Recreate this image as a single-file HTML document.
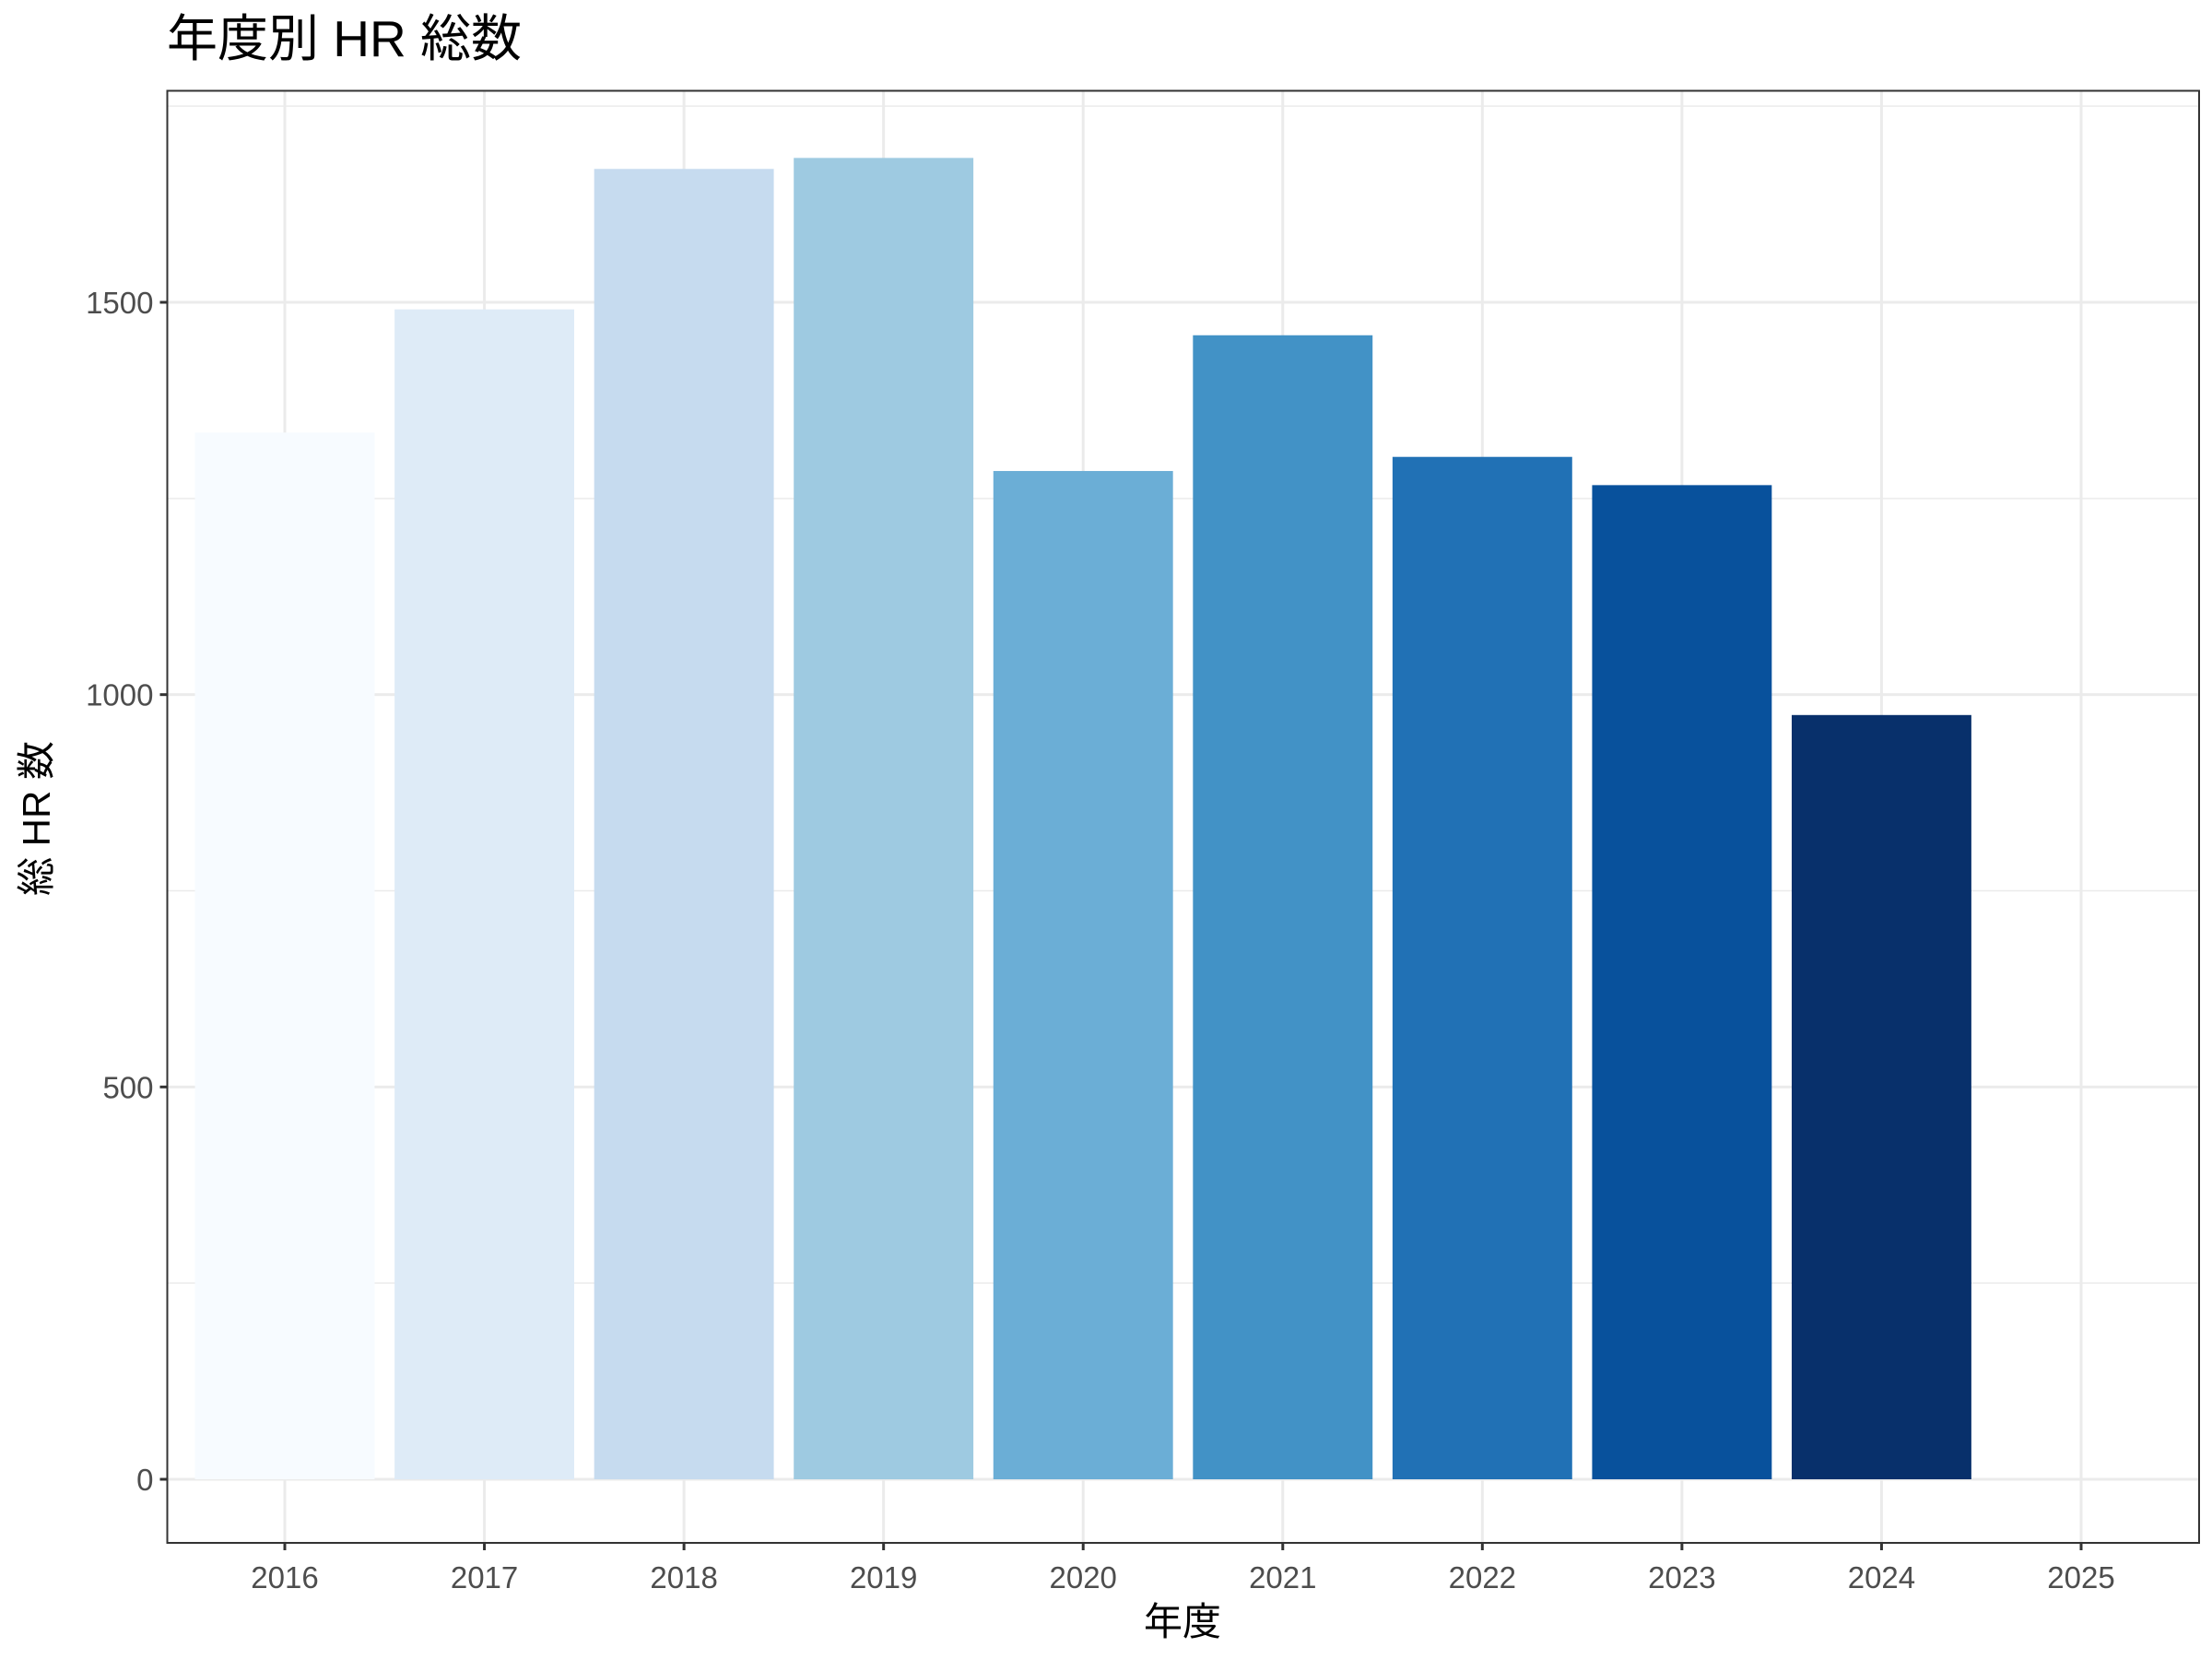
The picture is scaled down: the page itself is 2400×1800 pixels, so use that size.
<!DOCTYPE html>
<html><head><meta charset="utf-8"><style>
html,body{margin:0;padding:0;background:#fff;}
svg{display:block;font-family:"Liberation Sans","Noto Sans CJK JP",sans-serif;}
</style></head><body>
<svg id="chart" width="2400" height="1800" viewBox="0 0 2400 1800" xmlns="http://www.w3.org/2000/svg">
<text x="181" y="61" font-size="55" fill="#000">年度別 HR 総数</text>
<rect x="181.5" y="98.5" width="2204.5" height="1575.5" fill="#fff"/>
<g id="grid"></g>
<g id="bars"></g>
<rect x="181.5" y="98.5" width="2204.5" height="1575.5" fill="none" stroke="#333" stroke-width="2"/>
<g id="axes"></g>
<text x="1283" y="1774" font-size="42" text-anchor="middle" fill="#000">年度</text>
<text transform="translate(54,888) rotate(-90)" font-size="42" text-anchor="middle" fill="#000">総 HR 数</text>
</svg>
<script>
const years = ["2016","2017","2018","2019","2020","2021","2022","2023","2024"];
const xTickLabels = ["2016","2017","2018","2019","2020","2021","2022","2023","2024","2025"];
const hrTotals = [1334,1491,1670,1684,1285,1458,1303,1267,974];
const barColors = ["#F7FBFF","#DEEBF7","#C6DBEF","#9ECAE1","#6BAED6","#4292C6","#2171B5","#08519C","#08306B"];
const yTicks = [0,500,1000,1500];
const yMinor = [250,750,1250,1750];

const NS="http://www.w3.org/2000/svg";
const L=181.5,R=2386,T=98.5,B=1674;
const y0=1605, pxPerUnit=(1605-328)/1500;
function yScale(v){return y0 - v*pxPerUnit;}
const x0=309, step=(2258-309)/9;
function xScale(i){return x0 + i*step;}
function mk(tag,attrs,parent){const e=document.createElementNS(NS,tag);for(const k in attrs)e.setAttribute(k,attrs[k]);parent.appendChild(e);return e;}
const grid=document.getElementById('grid'),bars=document.getElementById('bars'),axes=document.getElementById('axes');

yMinor.forEach(v=>{const yy=yScale(v);if(yy<T)return;
 const l=mk('line',{x1:L,x2:R,y1:yy,y2:yy,stroke:'#EBEBEB','stroke-width':1.5},grid);
 
 });
yTicks.forEach(v=>{const yy=yScale(v);
 const l=mk('line',{x1:L,x2:R,y1:yy,y2:yy,stroke:'#EBEBEB','stroke-width':3},grid);
 
 
 const t=mk('line',{x1:L-8,x2:L,y1:yy,y2:yy,stroke:'#333','stroke-width':3},axes);
 
 
 const tx=mk('text',{x:L-15,y:yy+12,'font-size':33,'text-anchor':'end',fill:'#4D4D4D'},axes);
 tx.textContent=String(v);
 
 });
xTickLabels.forEach((lab,i)=>{const xx=xScale(i);
 const l=mk('line',{x1:xx,x2:xx,y1:T,y2:B,stroke:'#EBEBEB','stroke-width':3},grid);
 
 
 const t=mk('line',{x1:xx,x2:xx,y1:B,y2:B+8,stroke:'#333','stroke-width':3},axes);
 
 
 const tx=mk('text',{x:xx,y:B+49,'font-size':33,'text-anchor':'middle',fill:'#4D4D4D'},axes);
 tx.textContent=lab;
 
 });
const bw=step*0.9;
years.forEach((yr,i)=>{const xx=xScale(xTickLabels.indexOf(yr));const top=yScale(hrTotals[i]);
 const r=mk('rect',{x:xx-bw/2,y:top,width:bw,height:y0-top,fill:barColors[i]},bars);
 
 });
</script>
</body></html>
